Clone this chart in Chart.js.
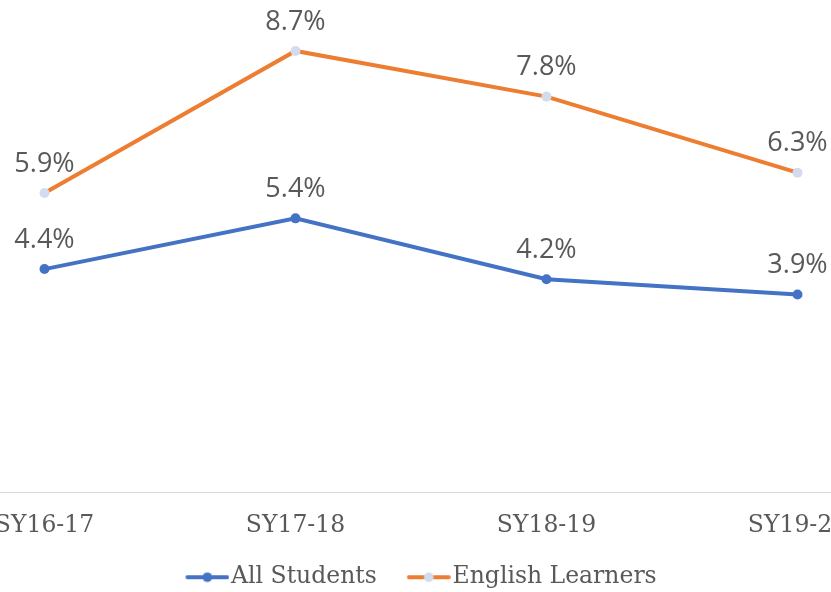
<!DOCTYPE html>
<html>
<head>
<meta charset="utf-8">
<script src="https://cdn.jsdelivr.net/npm/chart.js@4/dist/chart.umd.min.js"></script>
<style>
  html, body { margin: 0; padding: 0; background: #ffffff; overflow: hidden; width: 831px; height: 592px; }
  #wrap { position: absolute; left: -81px; top: -15px; width: 1004px; height: 614px; }
</style>
</head>
<body>
<div id="wrap"><canvas id="c"></canvas></div>
<script>
const categories = ['SY16-17', 'SY17-18', 'SY18-19', 'SY19-20'];
const allStudents = [4.4, 5.4, 4.2, 3.9];
const englishLearners = [5.9, 8.7, 7.8, 6.3];
const seriesNames = ['All Students', 'English Learners'];

const BLUE = '#4472C4';
const ORANGE = '#ED7D31';
const PALE = '#D2DCEE';
const TEXT = '#595959';

// legend marker: line with a dot, drawn in the right part of the image so it sits next to the text
function legendMarker(lineColor, dotColor) {
  const c = document.createElement('canvas');
  c.width = 62; c.height = 12;
  const g = c.getContext('2d');
  g.strokeStyle = lineColor; g.lineWidth = 3.8; g.lineCap = 'round';
  g.beginPath(); g.moveTo(20, 6); g.lineTo(60, 6); g.stroke();
  g.fillStyle = dotColor;
  g.beginPath(); g.arc(40, 6, 4.8, 0, Math.PI * 2); g.fill();
  return c;
}

const valueLabels = {
  id: 'valueLabels',
  afterDatasetsDraw(chart) {
    const ctx = chart.ctx;
    ctx.save();
    ctx.font = '27px "Open Sans"';
    ctx.fillStyle = TEXT;
    ctx.textAlign = 'center';
    ctx.textBaseline = 'middle';
    chart.data.datasets.forEach((ds, i) => {
      const meta = chart.getDatasetMeta(i);
      meta.data.forEach((pt, j) => {
        ctx.fillText(ds.data[j].toFixed(1) + '%', pt.x, pt.y - 29);
      });
    });
    ctx.restore();
  }
};

const legendShift = {
  id: 'legendShift',
  afterLayout(chart) {
    if (chart.legend) { chart.legend.left -= 4; chart.legend.right -= 4; }
  }
};

new Chart(document.getElementById('c'), {
  type: 'line',
  data: {
    labels: categories,
    datasets: [
      {
        label: seriesNames[0],
        data: allStudents,
        borderColor: BLUE,
        backgroundColor: BLUE,
        pointBackgroundColor: BLUE,
        pointBorderColor: BLUE,
        pointRadius: 5,
        borderWidth: 4,
        pointBorderWidth: 0,
        tension: 0,
        pointStyle: 'circle'
      },
      {
        label: seriesNames[1],
        data: englishLearners,
        borderColor: ORANGE,
        backgroundColor: ORANGE,
        pointBackgroundColor: PALE,
        pointBorderColor: PALE,
        pointRadius: 5,
        borderWidth: 4,
        pointBorderWidth: 0,
        tension: 0,
        pointStyle: 'circle'
      }
    ]
  },
  options: {
    responsive: true,
    maintainAspectRatio: false,
    animation: false,
    layout: { padding: 0, autoPadding: false },
    scales: {
      x: {
        offset: true,
        grid: { display: true, drawOnChartArea: false, drawTicks: false },
        border: { display: true, color: '#D9D9D9', width: 1 },
        ticks: { color: TEXT, font: { family: '"DejaVu Serif"', size: 23.5 }, padding: 19, maxRotation: 0 },
        afterFit(scale) { scale.height -= 15; }
      },
      y: {
        display: false,
        min: 0,
        max: 10
      }
    },
    plugins: {
      legend: {
        position: 'bottom',
        labels: {
          color: TEXT,
          font: { family: '"DejaVu Serif"', size: 23.5 },
          usePointStyle: true,
          pointStyleWidth: 42,
          padding: 22,
          generateLabels(chart) {
            return chart.data.datasets.map((ds, i) => ({
              text: ds.label,
              fontColor: TEXT,
              pointStyle: i === 0 ? legendMarker(BLUE, BLUE) : legendMarker(ORANGE, PALE),
              strokeStyle: 'transparent',
              fillStyle: 'transparent',
              lineWidth: 0,
              hidden: false,
              datasetIndex: i
            }));
          }
        }
      },
      tooltip: { enabled: false }
    }
  },
  plugins: [valueLabels, legendShift]
});
</script>
</body>
</html>
